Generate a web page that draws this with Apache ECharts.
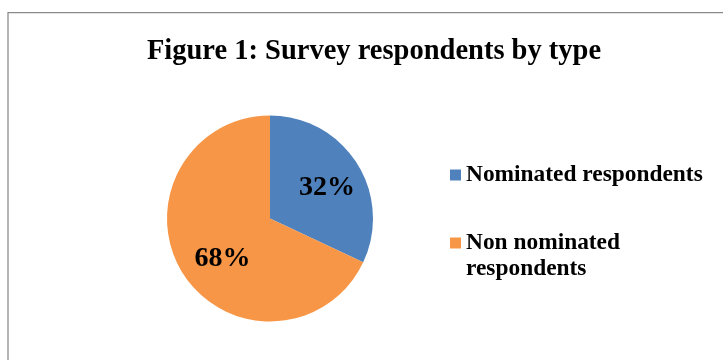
<!DOCTYPE html>
<html>
<head>
<meta charset="utf-8">
<script src="https://cdn.jsdelivr.net/npm/echarts@6/dist/echarts.min.js"></script>
<style>
  html, body { margin: 0; padding: 0; background: #fff; }
  #chart { width: 723px; height: 360px; }
</style>
</head>
<body>
<div id="chart"></div>
<script>
// Survey respondents split by type (percent of all respondents)
const categories = ['Nominated respondents', 'Non nominated respondents'];
const shares = [32, 68];
const colors = ['#4F81BD', '#F79646'];

const SERIF = '"Liberation Serif", "Times New Roman", serif';
const CX = 270, CY = 218.5, R = 103;

// small nudges of the slice labels away from the default mid-radius spot
const LABEL_NUDGE = [[11, -2], [-1.5, 11]];

const chart = echarts.init(document.getElementById('chart'), null, { renderer: 'canvas' });

chart.setOption({
  animation: false,
  backgroundColor: '#fff',
  graphic: [{
    type: 'rect',
    silent: true,
    shape: { x: 8, y: 12.5, width: 760, height: 400 },
    style: { fill: 'none', stroke: '#8a8a8a', lineWidth: 1.25 }
  }],
  title: {
    text: 'Figure 1: Survey respondents by type',
    left: 374,
    top: 37,
    textAlign: 'center',
    padding: 0,
    textStyle: { fontFamily: SERIF, fontWeight: 'bold', fontSize: 28.5, color: '#000' }
  },
  legend: {
    orient: 'vertical',
    left: 450,
    top: 162,
    padding: 0,
    itemGap: 16,
    itemWidth: 11,
    itemHeight: 11,
    icon: 'rect',
    selectedMode: false,
    textStyle: { fontFamily: SERIF, fontWeight: 'bold', fontSize: 23.4, lineHeight: 26, color: '#000' },
    // the wrapped entry keeps its first line level with the colour swatch
    formatter: function (name) {
      return name === 'Non nominated respondents' ? '\nNon nominated\nrespondents' : name;
    },
    data: categories
  },
  series: [{
    type: 'pie',
    center: [CX, CY],
    radius: [0, R],
    startAngle: 90,
    clockwise: true,
    silent: true,
    emphasis: { disabled: true },
    label: {
      show: true,
      position: 'inside',
      formatter: '{d}%',
      fontFamily: SERIF,
      fontWeight: 'bold',
      fontSize: 28,
      color: '#000'
    },
    labelLine: { show: false },
    labelLayout: function (p) {
      const n = LABEL_NUDGE[p.dataIndex] || [0, 0];
      return { dx: n[0], dy: n[1] };
    },
    data: categories.map((name, i) => ({
      name: name,
      value: shares[i],
      itemStyle: { color: colors[i] }
    }))
  }]
});
</script>
</body>
</html>
